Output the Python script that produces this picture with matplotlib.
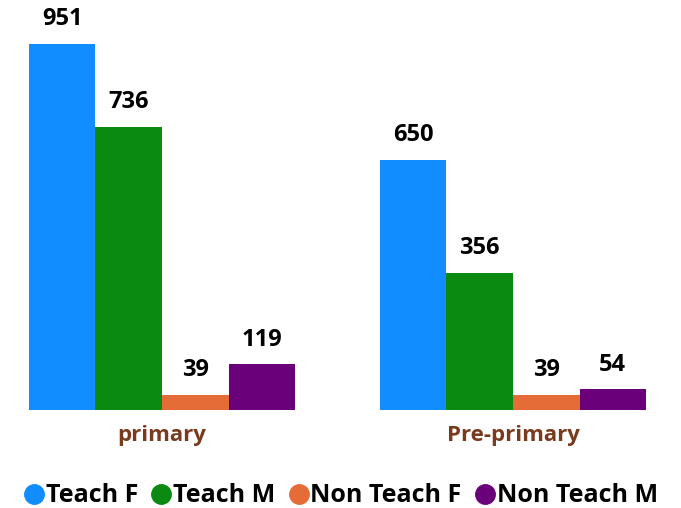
import matplotlib.pyplot as plt
import numpy as np

plt.rcParams['font.family'] = ['Open Sans', 'DejaVu Sans']

categories = ["primary", "Pre-primary"]
series = ["Teach F", "Teach M", "Non Teach F", "Non Teach M"]
values = {
    "Teach F": [951, 650],
    "Teach M": [736, 356],
    "Non Teach F": [39, 39],
    "Non Teach M": [119, 54],
}
colors = ["#118DFF", "#0B8A12", "#E66C37", "#6B007B"]

fig = plt.figure(figsize=(6.81, 5.08), dpi=100)
ax = fig.add_axes([0, 98 / 508, 1, 410 / 508])

x = np.arange(len(categories))
w = 0.1895
for i, name in enumerate(series):
    pos = x + (i - 1.5) * w
    bars = ax.bar(pos, values[name], width=w, color=colors[i], label=name)
    ax.bar_label(bars, padding=9, fontsize=17, fontweight="bold")

ax.set_xlim(-162 / 351, (681 - 162) / 351)
ax.set_ylim(0, 1065)
ax.axis("off")

for xi, cat in zip(x, categories):
    ax.text(xi, -65, cat, ha="center", va="center", fontsize=16,
            fontweight="bold", color="#7A3A1E")

handles = [plt.Line2D([], [], marker="o", linestyle="", markersize=14,
                      color=c) for c in colors]
fig.legend(handles, series, loc="center", bbox_to_anchor=(0.5, 1 - 496 / 508),
           ncol=4, frameon=False, handletextpad=0.05, columnspacing=0.5,
           prop={"size": 18, "weight": "bold"}, handlelength=0.85)

fig.savefig("out.png", dpi=100)
